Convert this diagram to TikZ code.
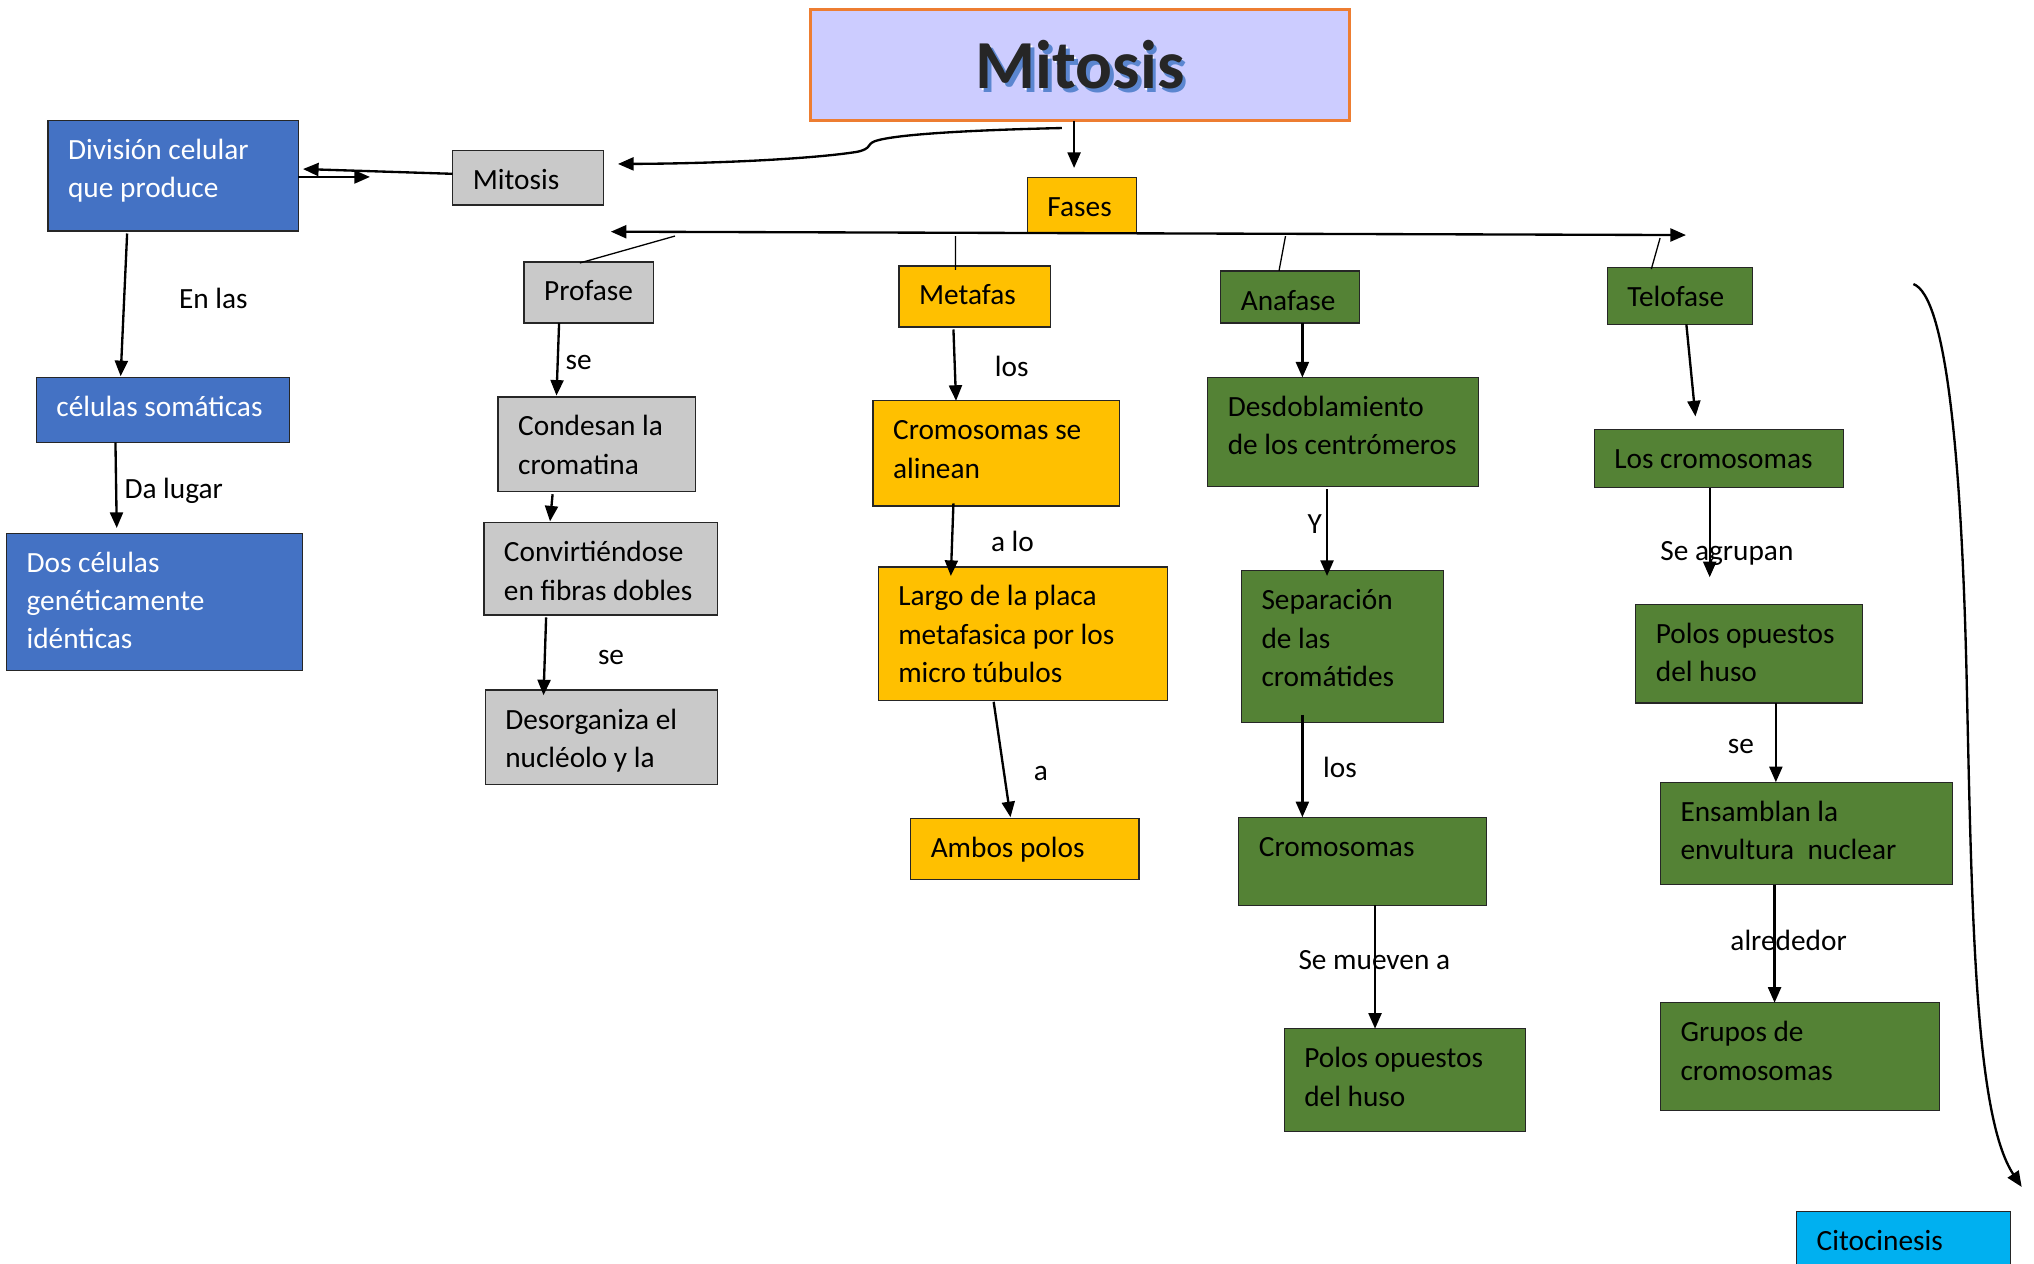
\documentclass[tikz,border=0pt]{standalone}
\usepackage{fontspec}
\setmainfont{Carlito}
\usetikzlibrary{arrows.meta,calc}
\definecolor{cblue}{HTML}{4472C4}
\definecolor{cyellow}{HTML}{FFC000}
\definecolor{cgreen}{HTML}{548235}
\definecolor{cgray}{HTML}{C9C9C9}
\definecolor{clav}{HTML}{CCCCFF}
\definecolor{corange}{HTML}{ED7D31}
\definecolor{ccyan}{HTML}{00B0F0}
\definecolor{shadowblue}{HTML}{5B86D0}
\definecolor{titledark}{HTML}{262626}
\newcommand\mylines[1]{\begin{tabular}[t]{@{}l@{}}#1\end{tabular}}
\newcommand\mkbox[8]{%
  \node[#2, minimum width={(#5)-(#3)}, minimum height={(#6)-(#4)}] (#1) at ({((#3)+(#5))/2},{((#4)+(#6))/2}) {};
  \node[txt, text=#7] (#1-t) at ([xshift=15.5pt,yshift=-30pt]#1.north west) {\mylines{#8}};
}
\tikzset{
  box/.style={draw=black!85, line width=1pt, inner sep=0pt, outer sep=0pt},
  bluebox/.style={box, fill=cblue},
  yellowbox/.style={box, fill=cyellow},
  greenbox/.style={box, fill=cgreen},
  graybox/.style={box, fill=cgray},
  cyanbox/.style={box, fill=ccyan},
  titlebox/.style={draw=corange, line width=2.2pt, fill=clav, inner sep=0pt, outer sep=0pt},
  txt/.style={anchor=base west, inner sep=0pt, outer sep=0pt, font=\fontsize{22.6}{29.6}\selectfont},
  titlefont/.style={inner sep=0pt, font=\bfseries\fontsize{53}{60}\selectfont},
  conn/.style={line width=1.8pt, -{Triangle[length=12pt,width=10pt]}},
  dconn/.style={line width=1.8pt, {Triangle[length=12pt,width=10pt]}-{Triangle[length=12pt,width=10pt]}},
  thinline/.style={line width=1pt},
}
\begin{document}
\begin{tikzpicture}[x=1pt,y=-1pt]
\path[use as bounding box, clip] (0,0) rectangle (1568,974.4);
\fill[white] (0,0) rectangle (1568,974.4);

% title
\node[titlebox, minimum width=415, minimum height=86] (title) at (832.5,50) {};
\node[titlefont, text=white] (titleglow) at ([xshift=1.2pt,yshift=-1.2pt]title.center) {Mitosis};
\node[titlefont, text=shadowblue] (titleshadow) at ([xshift=2.8pt,yshift=-2.8pt]title.center) {Mitosis};
\node[titlefont, text=titledark] (titletext) at (title.center) {Mitosis};

% left column
\mkbox{div}{bluebox}{37}{93}{230}{178}{white}{División celular\\que produce}
\mkbox{som}{bluebox}{28}{291}{223}{341}{white}{células somáticas}
\mkbox{dos}{bluebox}{5}{411}{233}{517}{white}{Dos células\\genéticamente\\idénticas}
\mkbox{mit}{graybox}{349}{116}{465}{158}{black}{Mitosis}
\mkbox{fases}{yellowbox}{792}{137}{876}{179}{black}{Fases}

% phases
\mkbox{prof}{graybox}{404}{202}{504}{249}{black}{Profase}
\mkbox{meta}{yellowbox}{693}{205}{810}{252}{black}{Metafas}
\mkbox{ana}{greenbox}{941}{209}{1048}{249}{black}{Anafase}
\mkbox{telo}{greenbox}{1239}{206}{1351}{250}{black}{Telofase}

% profase column
\mkbox{cond}{graybox}{384}{306}{536}{379}{black}{Condesan la\\cromatina}
\mkbox{conv}{graybox}{373}{403}{553}{474}{black}{Convirtiéndose\\en fibras dobles}
\mkbox{desorg}{graybox}{374}{532}{553}{605}{black}{Desorganiza el\\nucléolo y la}

% metafase column
\mkbox{alin}{yellowbox}{673}{309}{863}{390}{black}{Cromosomas se\\alinean}
\mkbox{largo}{yellowbox}{677}{437}{900}{540}{black}{Largo de la placa\\metafasica por los\\micro túbulos}
\mkbox{ambos}{yellowbox}{702}{631}{878}{678}{black}{Ambos polos}

% anafase column
\mkbox{desd}{greenbox}{931}{291}{1140}{375}{black}{Desdoblamiento\\de los centrómeros}
\mkbox{sep}{greenbox}{957}{440}{1113}{557}{black}{Separación\\de las\\cromátides}
\mkbox{crom}{greenbox}{955}{630}{1146}{698}{black}{Cromosomas}
\mkbox{polosa}{greenbox}{990}{793}{1176}{872}{black}{Polos opuestos\\del huso}

% telofase column
\mkbox{loscrom}{greenbox}{1229}{331}{1421}{376}{black}{Los cromosomas}
\mkbox{polost}{greenbox}{1261}{466}{1436}{542}{black}{Polos opuestos\\del huso}
\mkbox{ensam}{greenbox}{1280}{603}{1505}{682}{black}{Ensamblan la\\envultura\ \ nuclear}
\mkbox{grupos}{greenbox}{1280}{773}{1495}{856}{black}{Grupos de\\cromosomas}

\mkbox{cito}{cyanbox}{1385}{934}{1550}{995}{black}{Citocinesis}

% connector labels
\node[txt] (l1) at (138,238) {En las};
\node[txt] (l2) at (96,384) {Da lugar};
\node[txt] (l3) at (436,285) {se};
\node[txt] (l4) at (461,512) {se};
\node[txt] (l5) at (767,290) {los};
\node[txt] (l6) at (764,425) {a lo};
\node[txt] (l7) at (797,602) {a};
\node[txt] (l8) at (1008,411) {Y};
\node[txt] (l9) at (1020,599) {los};
\node[txt] (l10) at (1001,747) {Se mueven a};
\node[txt] (l11) at (1280,432) {Se agrupan};
\node[txt] (l12) at (1332,581) {se};
\node[txt] (l13) at (1334,733) {alrededor};

% free-end coordinates
\coordinate (divtip) at (285.2,136.4);
\coordinate (barL) at (470.9,178.6);
\coordinate (barR) at (1299.7,181.2);
\coordinate (cstart) at (1475,219);
\coordinate (cend) at (1558.5,915);

% connectors
\draw[conn] ([xshift=-4.5pt]title.south) -- ([xshift=-6pt,yshift=7.5pt]fases.north);
\draw[conn] ([xshift=-14pt,yshift=-5.7pt]title.south)
  .. controls (760,100) and (690,103) .. (674,109)
  .. controls (668,111.5) and (672,114.5) .. (661,117)
  .. controls (630,122) and (560,126) .. ([xshift=11.4pt,yshift=10.6pt]mit.east);
\draw[conn] ([yshift=3pt]mit.west) -- ([xshift=3.6pt,yshift=5.2pt]div.east);
\draw[conn] ([yshift=-0.9pt]div.east) -- (divtip);
\draw[conn] ([xshift=-35.5pt,yshift=-2pt]div.south) -- ([xshift=-32.5pt,yshift=1pt]som.north);
\draw[conn] ([xshift=-36.5pt]som.south) -- ([xshift=-29pt,yshift=4pt]dos.north);

\draw[dconn] (barL) -- (barR);
\draw[thinline] ($(barL)!0.0597!(barR)+(0,3.2)$) -- ([xshift=-7pt,yshift=-0.7pt]prof.north);
\draw[thinline] ($(barL)!0.3206!(barR)+(0,2.6)$) -- ([xshift=-14.9pt,yshift=-3pt]meta.north);
\draw[thinline] ($(barL)!0.6275!(barR)+(0,1.8)$) -- ([xshift=-8.5pt,yshift=0.3pt]ana.north);
\draw[thinline] ($(barL)!0.9759!(barR)+(0,2.4)$) -- ([xshift=-22pt,yshift=-1.4pt]telo.north);

\draw[conn] ([xshift=-23pt]prof.south) -- ([xshift=-31pt,yshift=1pt]cond.north);
\draw[conn] ([xshift=-34pt,yshift=-2pt]cond.south) -- ([xshift=-39pt,yshift=1pt]conv.north);
\draw[conn] ([xshift=-42pt,yshift=-2pt]conv.south) -- ([xshift=-44.5pt,yshift=-4pt]desorg.north);

\draw[conn] ([xshift=-16.5pt,yshift=-2pt]meta.south) -- ([xshift=-31pt]alin.north);
\draw[conn] ([xshift=-33pt,yshift=2pt]alin.south) -- ([xshift=-55.5pt,yshift=-7pt]largo.north);
\draw[conn] ([xshift=-22.5pt,yshift=-1pt]largo.south) -- ([xshift=-11pt,yshift=1pt]ambos.north);

\draw[conn] ([xshift=9.5pt]ana.south) -- ([xshift=-31.5pt]desd.north);
\draw[conn] ([xshift=-12.5pt,yshift=-2pt]desd.south) -- ([xshift=-12pt,yshift=-4pt]sep.north);
\draw[conn] ([xshift=-31pt,yshift=6pt]sep.south) -- ([xshift=-46.5pt]crom.north);
\draw[conn] ([xshift=9.5pt]crom.south) -- ([xshift=-23pt]polosa.north);

\draw[conn] ([xshift=5pt]telo.south) -- ([xshift=-18pt,yshift=10pt]loscrom.north);
\draw[conn] ([xshift=-7pt]loscrom.south) -- ([xshift=-30.5pt,yshift=21pt]polost.north);
\draw[conn] ([xshift=20.5pt]polost.south) -- ([xshift=-23.5pt]ensam.north);
\draw[conn] ([xshift=-24.5pt]ensam.south) -- ([xshift=-19.5pt]grupos.north);

\draw[conn] (cstart) .. controls (1500,228) and (1512,350) .. (1516,520)
  .. controls (1520,700) and (1522,860) .. (cend);
\end{tikzpicture}
\end{document}
